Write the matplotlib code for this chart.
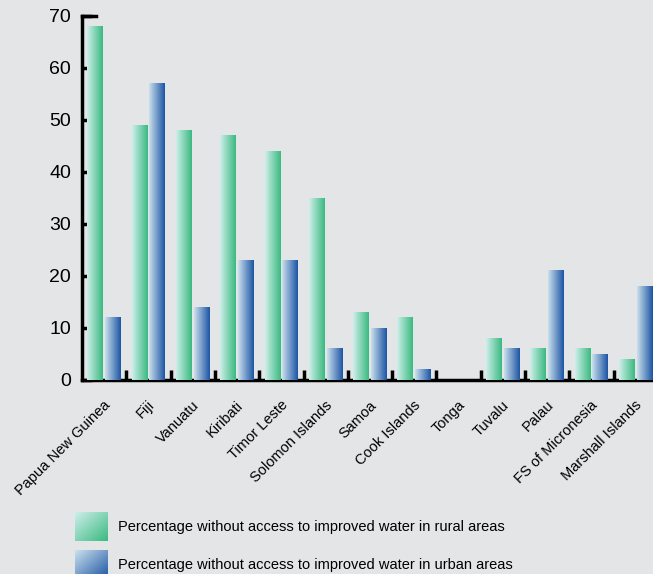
import numpy as np
import matplotlib.pyplot as plt
from matplotlib.colors import LinearSegmentedColormap

plt.rcParams['font.family'] = ['Liberation Sans', 'DejaVu Sans']

countries = ['Papua New Guinea', 'Fiji', 'Vanuatu', 'Kiribati', 'Timor Leste',
             'Solomon Islands', 'Samoa', 'Cook Islands', 'Tonga', 'Tuvalu',
             'Palau', 'FS of Micronesia', 'Marshall Islands']
rural = [68, 49, 48, 47, 44, 35, 13, 12, 0, 8, 6, 6, 4]
urban = [12, 57, 14, 23, 23, 6, 10, 2, 0, 6, 21, 5, 18]
legend_labels = ['Percentage without access to improved water in rural areas',
                 'Percentage without access to improved water in urban areas']

bg = '#e4e5e7'
green = LinearSegmentedColormap.from_list('g', ['#cdeeea', '#3bba80'])
blue = LinearSegmentedColormap.from_list('b', ['#c9dfec', '#1d55a4'])

fig = plt.figure(figsize=(6.53, 5.74), dpi=100, facecolor=bg)
ax = fig.add_axes([82 / 653, 194 / 574, 571 / 653, 364 / 574])
ax.set_facecolor(bg)

x = np.arange(len(countries))
w = 0.36
b1 = ax.bar(x + 0.30, rural, w, alpha=0)
b2 = ax.bar(x + 0.70, urban, w, alpha=0)

grad = np.linspace(0, 1, 64).reshape(1, -1)
for bars, cm in [(b1, green), (b2, blue)]:
    for r in bars:
        if r.get_height() <= 0:
            continue
        ax.imshow(grad, cmap=cm, aspect='auto', zorder=3,
                  extent=[r.get_x(), r.get_x() + r.get_width(), 0, r.get_height()])

ax.set_xlim(0, 571 / 44.3)
ax.set_ylim(0, 70)

for s in ['top', 'right']:
    ax.spines[s].set_visible(False)
for s in ['left', 'bottom']:
    ax.spines[s].set_linewidth(2.5)
    ax.spines[s].set_color('black')
ax.spines['bottom'].set_zorder(1)

ax.set_yticks(range(0, 71, 10))
ax.tick_params(axis='y', direction='in', length=7, width=2.5, labelsize=14, pad=8)
ax.plot([0, 14 / 44.3], [70, 70], color='black', lw=2.5, clip_on=False, zorder=4)

ax.set_xticks(np.arange(1, len(countries)))
ax.set_xticklabels([])
ax.tick_params(axis='x', which='major', direction='in', length=7, width=2.5)
ax.set_xticks(x + 0.48, minor=True)
ax.set_xticklabels(countries, minor=True, rotation=45, ha='right',
                   rotation_mode='anchor', fontsize=10.5)
ax.tick_params(axis='x', which='minor', length=0, pad=13)

# legend
Xg, Yg = np.meshgrid(np.linspace(0, 1, 40), np.linspace(0, 1, 40))
diag = (Xg + Yg) / 2
for i, (cm, lab) in enumerate([(green, legend_labels[0]), (blue, legend_labels[1])]):
    top = 512 + 38 * i
    lax = fig.add_axes([75 / 653, (574 - top - 29) / 574, 33 / 653, 29 / 574])
    lax.imshow(diag, cmap=cm, aspect='auto')
    lax.axis('off')
    fig.text(118 / 653, 1 - (top + 15) / 574, lab, va='center', fontsize=10.5)

fig.savefig('out.png', dpi=100, facecolor=bg)
